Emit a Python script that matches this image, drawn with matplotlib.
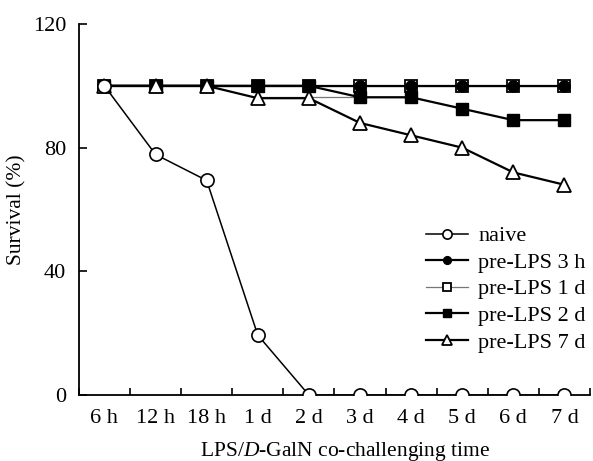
import matplotlib
matplotlib.use("Agg")
import matplotlib.pyplot as plt
import numpy as np

plt.rcParams['font.family'] = ['Liberation Serif', 'DejaVu Serif']
plt.rcParams['mathtext.fontset'] = 'custom'
plt.rcParams['mathtext.it'] = 'Liberation Serif:italic'
plt.rcParams['mathtext.rm'] = 'Liberation Serif'

times = ["6 h", "12 h", "18 h", "1 d", "2 d", "3 d", "4 d", "5 d", "6 d", "7 d"]
naive = [100, 77.8, 69.4, 19.4, 0, 0, 0, 0, 0, 0]
pre_3h = [100, 100, 100, 100, 100, 100, 100, 100, 100, 100]
pre_1d = [100, 100, 100, 100, 100, 100, 100, 100, 100, 100]
pre_1d_extra = [np.nan, np.nan, np.nan, 96.3, 96.3, 96.3, 96.3, np.nan, np.nan, np.nan]
pre_2d = [100, 100, 100, 100, 100, 96.3, 96.3, 92.6, 88.9, 88.9]
pre_7d = [100, 100, 100, 96, 96, 88, 84, 80, 72, 68]

fig = plt.figure(figsize=(5.93, 4.61), dpi=100)
ax = fig.add_axes([0.133, 0.143, 0.862, 0.805])

x = np.arange(len(times))

ax.plot(x, pre_1d_extra, color='#777777', lw=0.9, zorder=1)
l1d, = ax.plot(x, pre_1d, color='#777777', lw=0.9, marker='s', ms=8.5,
               mfc='white', mec='black', mew=1.3, label='pre-LPS 1 d', zorder=2)
l3h, = ax.plot(x, pre_3h, color='black', lw=1.6, marker='o', ms=8,
               mfc='black', mec='black', label='pre-LPS 3 h', zorder=3)
l2d, = ax.plot(x, pre_2d, color='black', lw=1.6, marker='s', ms=8.5,
               mfc='black', mec='black', label='pre-LPS 2 d', zorder=4)
l7d, = ax.plot(x, pre_7d, color='black', lw=1.6, marker='^', ms=10,
               mfc='white', mec='black', mew=1.3, label='pre-LPS 7 d', zorder=5)
lnv, = ax.plot(x, naive, color='black', lw=1.1, marker='o', ms=9.5,
               mfc='white', mec='black', mew=1.2, label='naive', zorder=6)

ax.set_xlim(-0.5, len(times) - 0.5)
ax.set_ylim(0, 120)
ax.set_yticks([0, 40, 80, 120])
ax.set_xticks(np.arange(len(times) + 1) - 0.5)
ax.set_xticklabels([])
ax.set_xticks(x, minor=True)
ax.set_xticklabels(times, minor=True)
ax.tick_params(axis='x', which='minor', length=0, labelsize=16, pad=10)
ax.tick_params(axis='x', which='major', direction='in', length=5, width=1.2)
ax.tick_params(axis='y', direction='in', length=6, width=1.2, labelsize=16, pad=9)

ax.spines['top'].set_visible(False)
ax.spines['right'].set_visible(False)
ax.spines['left'].set_linewidth(1.3)
ax.spines['bottom'].set_linewidth(1.3)

ax.set_ylabel('Survival (%)', fontsize=15.5)
ax.yaxis.set_label_coords(-0.102, 0.5)
ax.set_xlabel('LPS/$\\mathit{D}$-GalN co-challenging time', fontsize=15.5)
ax.xaxis.set_label_coords(0.52, -0.122)

ax.legend(handles=[lnv, l3h, l1d, l2d, l7d], loc='upper left',
          bbox_to_anchor=(0.64, 0.51), frameon=False, fontsize=16,
          handlelength=1.9, handletextpad=0.45, labelspacing=0.27, markerscale=0.7)

fig.savefig('out.png', dpi=100)
